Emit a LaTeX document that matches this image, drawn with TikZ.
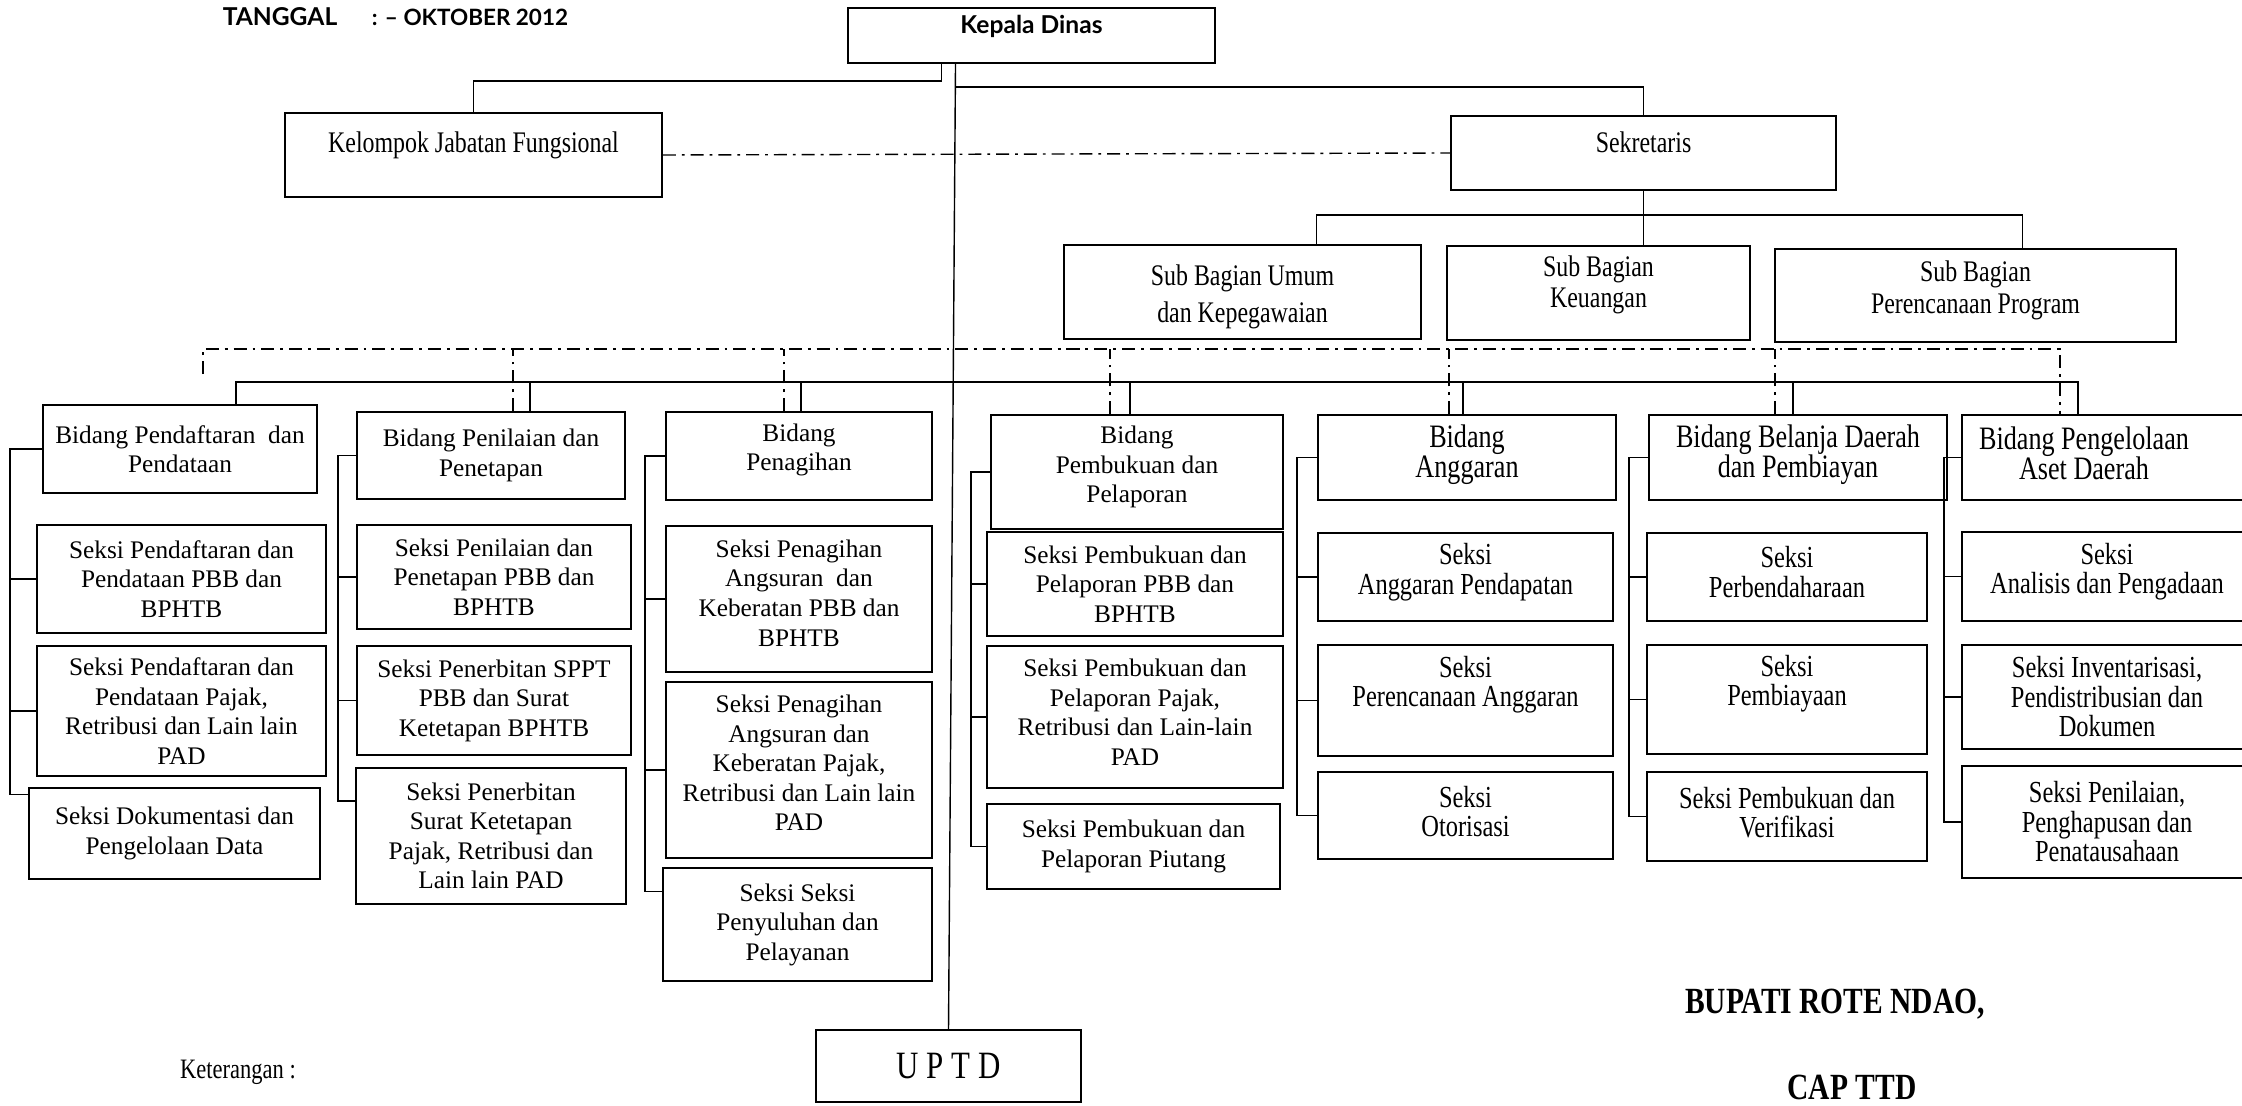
\documentclass[tikz,border=0pt]{standalone}
\usepackage{fontspec}
\setmainfont{Liberation Serif}
\newfontfamily\sempit[FakeStretch=0.8]{Liberation Serif}
\newfontfamily\judul{Lato}
\usetikzlibrary{fit,calc}

\tikzset{
    kotak/.style = {draw, line width = .5pt, inner sep = 0pt},
    teks/.style = {align = center, inner sep = 0pt, font = \fontsize{7.2}{8.4}\selectfont},
    tekskanan/.style = {teks, font = \sempit\fontsize{8.7}{8.4}\selectfont},
    bidangkanan/.style = {teks, font = \sempit\fontsize{9.3}{8.7}\selectfont},
    teksatas/.style = {teks, font = \sempit\fontsize{8.5}{9}\selectfont},
    teksjudul/.style = {teks, font = \judul\bfseries\fontsize{7}{8}\selectfont},
    tebal/.style = {teks, font = \sempit\bfseries\fontsize{10.5}{12}\selectfont},
    garis/.style = {line width = .4pt},
    putus/.style = {line width = .4pt, dash pattern = on 3.7pt off 1.7pt on .8pt off 1.7pt},
}

% kotak dengan teks: [geser teks]{nama}{gaya}{sudut}{sudut}{teks}
\newcommand{\kotakteks}[6][0,0]{%
    \node[kotak, fit = {#4 #5}] (#2) {};
    \node[#3] (#2-t) at ($(#2.center) + (#1)$) {#6};
}

\begin{document}
\begin{tikzpicture}[x = .1mm, y = -.1mm]
    \useasboundingbox (0, 0) rectangle (2242, 1105);

    \node[teksjudul] (tgl) at (280, 17) {TANGGAL};
    \node[teksjudul, font = \judul\bfseries\fontsize{6.4}{8}\selectfont] (tglisi) at (470, 17) {: – OKTOBER 2012};

    % pimpinan
    \kotakteks[0,-9]{kd}{teksjudul}{(848, 8)}{(1215, 63)}{Kepala Dinas}
    \kotakteks[0,-10]{kjf}{teksatas}{(285, 113)}{(662, 197)}{Kelompok Jabatan Fungsional}
    \kotakteks[0,-11]{sek}{teksatas}{(1451, 116)}{(1836, 190)}{Sekretaris}
    \kotakteks[0,5]{sbu}{teksatas}{(1064, 245)}{(1421, 339)}{Sub Bagian Umum\\[1.5pt]dan Kepegawaian}
    \kotakteks[0,-8]{sbk}{teksatas}{(1447, 246)}{(1750, 340)}{Sub Bagian\\Keuangan}
    \kotakteks[0,-5]{sbp}{teksatas}{(1775, 249)}{(2176, 342)}{Sub Bagian\\Perencanaan Program}

    % bidang
    \kotakteks{bd1}{teks}{(43, 405)}{(317, 493)}{Bidang Pendaftaran~ dan\\Pendataan}
    \kotakteks{bd2}{teks}{(357, 412)}{(625, 499)}{Bidang Penilaian dan\\Penetapan}
    \kotakteks[0,-6]{bd3}{teks}{(666, 412)}{(932, 500)}{Bidang\\Penagihan}
    \kotakteks[0,-5]{bd4}{teks}{(991, 415)}{(1283, 529)}{Bidang\\Pembukuan dan\\Pelaporan}
    \kotakteks[0,-3]{bd5}{bidangkanan}{(1318, 415)}{(1616, 500)}{Bidang\\Anggaran}
    \kotakteks[0,-3]{bd6}{bidangkanan}{(1649, 415)}{(1947, 500)}{Bidang Belanja Daerah\\dan Pembiayan}
    \kotakteks[-27,-4]{bd7}{bidangkanan}{(1962, 415)}{(2260, 500)}{Bidang Pengelolaan\\Aset Daerah}

    % seksi
    \kotakteks{s11}{teks}{(37, 525)}{(326, 633)}{Seksi Pendaftaran dan\\Pendataan PBB dan\\BPHTB}
    \kotakteks{s12}{teks}{(37, 646)}{(326, 776)}{Seksi Pendaftaran dan\\Pendataan Pajak,\\Retribusi dan Lain lain\\PAD}
    \kotakteks{s13}{teks}{(29, 788)}{(320, 879)}{Seksi Dokumentasi dan\\Pengelolaan Data}
    \kotakteks{s21}{teks}{(357, 525)}{(631, 629)}{Seksi Penilaian dan\\Penetapan PBB dan\\BPHTB}
    \kotakteks{s22}{teks}{(357, 646)}{(631, 755)}{Seksi Penerbitan SPPT\\PBB dan Surat\\Ketetapan BPHTB}
    \kotakteks{s23}{teks}{(356, 768)}{(626, 904)}{Seksi Penerbitan\\Surat Ketetapan\\Pajak, Retribusi dan\\Lain lain PAD}
    \kotakteks[0,-6]{s31}{teks}{(666, 526)}{(932, 672)}{Seksi Penagihan\\Angsuran~ dan\\Keberatan PBB dan\\BPHTB}
    \kotakteks[0,-7]{s32}{teks}{(666, 682)}{(932, 858)}{Seksi Penagihan\\Angsuran dan\\Keberatan Pajak,\\Retribusi dan Lain lain\\PAD}
    \kotakteks{s33}{teks}{(663, 868)}{(932, 981)}{Seksi Seksi\\Penyuluhan dan\\Pelayanan}
    \kotakteks{s41}{teks}{(987, 532)}{(1283, 636)}{Seksi Pembukuan dan\\Pelaporan PBB dan\\BPHTB}
    \kotakteks[0,-5]{s42}{teks}{(987, 646)}{(1283, 788)}{Seksi Pembukuan dan\\Pelaporan Pajak,\\Retribusi dan Lain-lain\\PAD}
    \kotakteks{s43}{teks}{(987, 804)}{(1280, 889)}{Seksi Pembukuan dan\\Pelaporan Piutang}
    \kotakteks[0,-5]{s51}{tekskanan}{(1318, 533)}{(1613, 621)}{Seksi\\Anggaran Pendapatan}
    \kotakteks[0,-16]{s52}{tekskanan}{(1318, 645)}{(1613, 756)}{Seksi\\Perencanaan Anggaran}
    \kotakteks[0,-4]{s53}{tekskanan}{(1318, 772)}{(1613, 859)}{Seksi\\Otorisasi}
    \kotakteks[0,-5]{s61}{tekskanan}{(1647, 533)}{(1927, 621)}{Seksi\\Perbendaharaan}
    \kotakteks[0,-16]{s62}{tekskanan}{(1647, 645)}{(1927, 754)}{Seksi\\Pembiayaan}
    \kotakteks[0,-4]{s63}{tekskanan}{(1647, 772)}{(1927, 861)}{Seksi Pembukuan dan\\Verifikasi}
    \kotakteks[-4,-5]{s71}{tekskanan}{(1962, 532)}{(2260, 621)}{Seksi\\Analisis dan Pengadaan}
    \kotakteks[-4,0]{s72}{tekskanan}{(1962, 645)}{(2260, 749)}{Seksi Inventarisasi,\\Pendistribusian dan\\Dokumen}
    \kotakteks[-4,0]{s73}{tekskanan}{(1962, 766)}{(2260, 878)}{Seksi Penilaian,\\Penghapusan dan\\Penatausahaan}

    \kotakteks{uptd}{teks, font = \sempit\fontsize{11}{12}\selectfont}{(816, 1030)}{(1081, 1102)}{U P T D}

    \node[teks, font = \sempit\fontsize{8}{9}\selectfont] (ket) at (238, 1072) {Keterangan :};
    \node[tebal] (bupati) at (1835, 1004) {BUPATI ROTE NDAO,};
    \node[tebal] (cap) at (1852, 1087) {CAP TTD};

    % garis komando
    \draw[garis] ([xshift = -9mm]kd.south) -- ++(0, 17) -| (kjf.north);
    \draw[garis] ([xshift = -7.6mm]kd.south) ++(0, 23) -| (sek.north);
    \draw[garis] ([xshift = -7.6mm]kd.south) -- (uptd.north);
    \draw[garis] (sek.south) -- ++(0, 24) -| ([xshift = 7.4mm]sbu.north);
    \draw[garis] (sek.south) ++(0, 24) -| ([xshift = 4.7mm]sbp.north);
    \draw[garis] (sek.south) -- (sek.south |- sbk.north);

    \draw[garis] ([xshift = 5.6mm]bd1.north) -- ++(0, -22) -| ([xshift = -3.3mm]bd7.north);
    \foreach \kol/\dx/\dy in {2/3.9/29, 3/.2/29, 4/-.7/32, 5/-.4/32, 6/-.5/32}
        \draw[garis] ([xshift = \dx mm]bd\kol.north) -- ++(0, -\dy);

    \foreach \kol/\dx/\ys in {1/32/3.9, 2/18/3.5, 3/20/3.3, 4/19/0, 5/20/0, 6/19/0, 7/17/0}
        \draw[garis] (bd\kol.west) -- ++(-\dx, 0) |- (s\kol1.west)
                     (bd\kol.west) ++(-\dx, 0) |- (s\kol2.west)
                     (bd\kol.west) ++(-\dx, 0) |- ([yshift = \ys mm]s\kol3.west);

    % garis koordinasi
    \draw[putus] (kjf.east) -- (sek.west);
    \draw[putus] ([xshift = 2.3mm]bd1.north) ++(0, -30) -- ++(0, -25) -| ([xshift = -5.1mm]bd7.north);
    \foreach \kol/\dx/\dy in {2/2.2/62, 3/-1.5/62, 4/-2.7/65, 5/-1.8/65, 6/-2.3/65}
        \draw[putus] ([xshift = \dx mm]bd\kol.north) -- ++(0, -\dy);
\end{tikzpicture}
\end{document}
